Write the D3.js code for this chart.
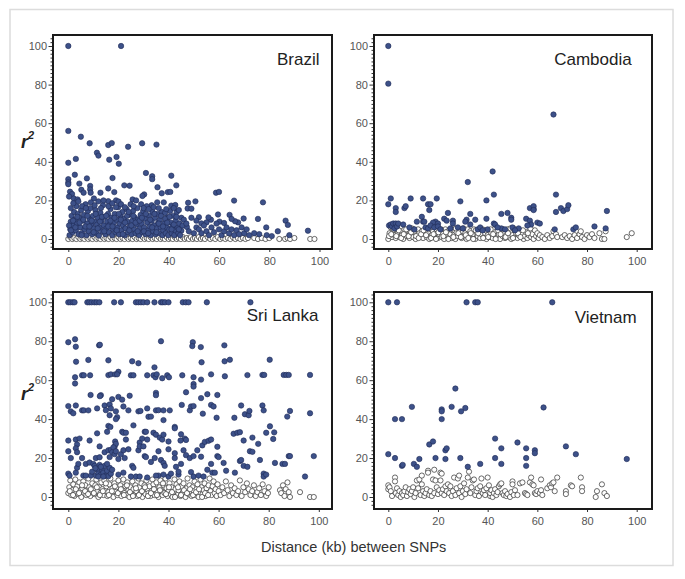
<!DOCTYPE html>
<html><head><meta charset="utf-8">
<script src="https://cdn.jsdelivr.net/npm/d3@7"></script>
<style>body{margin:0;background:#fff}svg{display:block;font-family:"Liberation Sans",Arial,sans-serif}</style>
</head><body><div id="chart"></div>
<script>
const panelNames = ["Brazil","Cambodia","Sri Lanka","Vietnam"];
const xTicks = [0,20,40,60,80,100];
const yTicks = [0,20,40,60,80,100];
const xTitle = "Distance (kb) between SNPs";

const brazilFilled = [
[0,100],[21,100],[0,56],[5,53],[8.5,49.6],[15.9,48.7],[17.3,49.7],[23.8,47.8],[29.4,49.6],[35.1,48.9],[11.4,44.7],[12,43.2],[16.3,41.1],[19.2,42.5],[20.1,39],[0,39.5],[3,41.5],[30.9,34.2],[33.4,32.5],[33.4,31],[41,32.8],[0,31],[0,29.3],[0,28.4],[2.6,33.3],[7.4,31.4],[17.6,31.6],[4.4,28.7],[8.7,27.5],[8.7,25.7],[8.9,24],[12.8,24],[15.9,26.2],[18.3,24.3],[22.3,27.8],[24.4,27.6],[30.2,23.1],[29.5,22.3],[35.5,26.8],[37.2,23.7],[39.6,24.3],[40.6,24.4],[43,27.8],[0.7,24.5],[1.5,23.3],[0.3,22],[2.2,21],[3.7,20.5],[5.2,25.5],[6.1,24],[10.2,21],[25.6,20.5],[15.9,19.6],[19,20],[20,19.4],[35.4,19],[33.2,17.5],[41,17.3],[42.6,17.6],[47.7,18.8],[50.6,19.5],[47.5,15.8],[49,15.7],[58.8,24],[60,24.4],[66,19.9],[77.5,19],[75.5,10.4],[69.8,10.6],[67.6,8.6],[66.4,9.2],[64.2,12.5],[65,10.4],[78.8,6],[83.4,4],[86.5,9.5],[87.4,7.3],[95.4,4.3],[59.6,12.7],[56.8,10],[55,8.6],[55.8,11.2],[60.2,9],[62,8.3],[52,11.3],[53,8.1],[51,6],[47.2,6.2],[45,4.3],
[0.5,2],[0.8,5],[1,9],[1.3,12],[1.7,3.5],[2,7],[2.3,14],[2.6,10],[3,4.5],[3.2,17],[3.5,8],[3.8,13],[4.1,2.5],[4.4,11],[4.8,6],[5.1,15],[5.4,3],[5.8,9.5],[6.2,12.5],[6.5,5],[6.9,18],[7.2,2],[7.5,8],[7.8,14.5],[8.2,4],[8.5,10.5],[8.8,16],[9.2,7],[9.5,2.5],[9.8,12],[10.2,5.5],[10.5,9],[10.8,15],[11.2,3],[11.5,7.5],[11.8,11],[12.2,1.8],[12.5,6],[12.8,13.5],[13.2,9.5],[13.5,4],[13.8,17.5],[14.2,7],[14.5,11.5],[14.8,2.5],[15.2,5.5],[15.5,9],[15.8,13],[16.2,3.5],[16.5,7.5],[16.8,15.5],[17.2,11],[17.5,2],[17.8,5],[18.2,8.5],[18.5,13],[18.8,3.5],[19.2,10],[19.5,6],[19.8,16.5],[20.2,2.5],[20.5,8],[20.8,12],[21.2,4.5],[21.5,14],[21.8,7],[22.2,10.5],[22.5,2],[22.8,5.5],[23.2,15.5],[23.5,9],[23.8,3.5],[24.2,12.5],[24.5,6.5],[24.8,18],[25.2,2.5],[25.5,9.5],[25.8,14.5],[26.2,5],[26.5,11],[26.8,3],[27.2,7.5],[27.5,16],[27.8,10],[28.2,2],[28.5,5.5],[28.8,12.5],[29.2,8],[29.5,3.5],[29.8,14.5],[30.2,6],[30.5,10.5],[30.8,2.5],[31.2,17],[31.5,8.5],[31.8,4.5],[32.2,12],[32.5,6.5],[32.8,2],[33.2,9.5],[33.5,14],[33.8,4],[34.2,7],[34.5,11],[34.8,2.5],[35.2,5.5],[35.5,13],[35.8,8.5],[36.2,3],[36.5,10],[36.8,6],[37.2,14],[37.5,2],[37.8,4.5],[38.2,8],[38.5,13.5],[38.8,3],[39.2,6],[39.5,11],[39.8,2],[40.2,5],[40.5,14.5],[40.8,8.5],[41.2,3],[41.5,6.5],[41.8,12],[42.2,2],[42.5,4.5],[42.8,9.5],[43.2,14],[43.5,6],[43.8,3],[44.2,8],[44.5,2],[45,11],
[0.3,7],[1.1,4.5],[1.9,9.5],[2.8,6],[3.6,11.5],[4.5,8.5],[5.3,2],[6,10],[6.8,6.5],[7.6,12],[8.4,6.5],[9.3,9.5],[10.1,3.5],[10.9,13],[11.7,5.5],[12.6,9],[13.4,11.5],[14.3,4],[15.1,12],[15.9,6.5],[16.8,9.5],[17.6,6.5],[18.4,11],[19.3,4.5],[20.1,13],[20.9,10],[21.7,2.5],[22.6,8.5],[23.4,12],[24.3,4.5],[25.1,7],[25.9,12],[26.8,8.5],[27.6,4],[28.4,9.5],[29.3,11],[30.1,4],[30.9,13],[31.8,3],[32.6,10],[33.4,6],[34.3,13],[35.1,3.5],[36,8],[36.9,12],[37.7,6.5],[38.6,10.5],[39.4,8.5],[40.3,11.5],[41.1,5],[42,7.5],[43,11.5],[44,5],[45.5,7],
[1,16],[2,18.5],[4,19.5],[5.5,17],[7,16],[9,19],[10.5,17.5],[12,19.5],[13,16],[14,20],[16,17],[17.5,18.5],[19,16.5],[21,18],[22.5,16.5],[24,14],[26,17],[27,20],[29,18],[30,16],[32,15.5],[34,16.5],[36,16],[38,19],[39,15.5],[42,16],[44,15],[46,10],[47,8],[48,4],[49,11],[50,3],[51,9.5],[52,5],[53,3],[54,7],[55,4],[56,2],[57,6],[58,3.5],[59,8],[60,5],[61,2],[62,4],[63,6],[64,3],[65,5],[66,2],[67,4.5],[68,2.5],[69,6],[70,3],[71,5],[72,2],[74,3],[76,2.5],[79,2],[81,1.5],[88,2]
];
const brazilOpen = [
[0,0],[0.8,1],[1.6,0],[2.4,0.5],[3.2,0],[4,1],[4.8,0],[5.6,0.5],[6.4,0],[7.2,1],[8,0],[8.8,0.5],[9.6,0],[10.4,1],[11.2,0],[12,0.5],[12.8,0],[13.6,1],[14.4,0],[15.2,0.5],[16,0],[16.8,1],[17.6,0],[18.4,0.5],[19.2,0],[20,1],[20.8,0],[21.6,0.5],[22.4,0],[23.2,1],[24,0],[24.8,0.5],[25.6,0],[26.4,1],[27.2,0],[28,0.5],[28.8,0],[29.6,1],[30.4,0],[31.2,0.5],[32,0],[32.8,1],[33.6,0],[34.4,0.5],[35.2,0],[36,1],[36.8,0],[37.6,0.5],[38.4,0],[39.2,1],[40,0],[40.8,0.5],[41.6,0],[42.4,1],[43.2,0],[44,0.5],[44.8,0],[45.6,1],[46.4,0],[47.2,0.5],[48,0],[48.8,1],[49.6,0],[50.4,0.5],[51.2,0],[52,1],[52.8,0],[53.6,0.5],[54.4,0],[55.5,1],[56.5,0],[57.5,0.5],[58.5,0],[59.5,1],[60.5,0],[61.5,0.5],[62.5,0],[63.5,0.5],[64.5,0],[65.5,1],[66.5,0],[67.5,0.5],[68.5,0],[69.5,0.5],[70.5,0],[71.5,0.5],[74,0.5],[75.5,0],[77,0.5],[78.5,0],[80,0.5],[84,0],[86.3,0],[87.3,0.5],[88.3,0],[90,0.5],[96.3,0],[98,0]
];

const cambodiaFilled = [
[0,100],[0,80.5],[0,18],[1,21],[3,16],[3,14],[6.5,16],[7,17],[9,21],[14,21],[16,18],[17,18],[16.5,15],[19.5,21],[13.5,11.5],[11.5,9],[14,9],[14.5,9],[19,9],[18,8.5],[20,8],[22.5,10.5],[24,13.5],[23.5,9.5],[26,9.5],[26,8],[29,19.5],[32,29.5],[31.5,10],[31,9],[33,13],[33,7.5],[35,10],[39.5,20],[39.5,10.5],[42,35],[42.5,23],[42.5,8],[43,7.5],[40,5],[45.5,13],[45.5,5.5],[48,13.5],[49.5,11],[49.5,10],[52.5,5.5],[55.5,10.5],[57,9.5],[57,16],[58.5,15.5],[58.5,17],[58.5,15],[57.5,7.5],[60,8.5],[61,8],[56,7],[66.5,64.5],[67.5,23],[67.5,14],[67,5],[69.5,16],[70.5,14.5],[72,15.5],[72.5,17.5],[74.5,5],[75.5,6],[83,6.5],[87.5,5.5],[88,14.5],[0.3,7],[1,7.5],[1.5,6.5],[2,8],[2.5,5.5],[3,8],[3.5,6.5],[4,8],[6,7.5],[8.5,6],[10.5,5],[15,6],[16,5.5],[17,7],[18.5,6],[20,6.5],[21,5],[25,5.5],[28,6],[30,5.5],[36,5],[37,6],[38,4.5],[44,6],[47,5],[50,6],[51,4.5]
];
const cambodiaOpen = [
[0,0],[0.5,3],[1,6],[1.5,1],[2,4.5],[2.5,2],[3,0.5],[3.5,5.5],[4,3],[4.5,1],[5,4],[5.5,2],[6,0],[6.5,5],[7,3],[7.5,1.5],[8,4.5],[8.5,0.5],[9,2.5],[9.5,5.5],[10,1],[10.5,3.5],[11,0],[11.5,2],[12,5],[12.5,3],[13,1],[13.5,4],[14,0.5],[14.5,2.5],[15,5],[15.5,1],[16,3.5],[16.5,0],[17,6],[17.5,2],[18,4],[18.5,1],[19,3],[19.5,5],[20,0.5],[20.5,2.5],[21,4.5],[21.5,1],[22,3],[22.5,0],[23,5],[23.5,2],[24,4],[24.5,1],[25,2.5],[25.5,0.5],[26,4.5],[26.5,2],[27,0],[27.5,3.5],[28,1.5],[28.5,5],[29,2.5],[29.5,0.5],[30,4],[30.5,1.5],[31,3],[31.5,0],[32,5],[32.5,2],[33,4],[33.5,1],[34,2.5],[34.5,5],[35,0],[35.5,3.5],[36,1.5],[36.5,4],[37,0.5],[37.5,2.5],[38,5],[38.5,1],[39,3],[39.5,0],[40,2],[40.5,4.5],[41,1],[41.5,3],[42,0.5],[42.5,5],[43,2],[43.5,4],[44,1],[44.5,2.5],[45,0],[45.5,4.5],[46,1.5],[46.5,3],[47,0.5],[47.5,2],[48,5],[48.5,1],[49,3.5],[49.5,0],[50,2],[50.5,5.5],[51,1],[51.5,3],[52,0.5],[52.5,2],[53,4],[53.5,1],[54,2.5],[54.5,0],[55,1.5],[55.5,3.5],[56,0.5],[56.5,2],[57,4],[57.5,1],[58,2.5],[58.5,0],[59,4.5],[59.5,1.5],[60,3],[60.5,0.5],[61,2],[62,1],[63,0],[64,2],[65,0.5],[66,1.5],[66.5,4],[67.5,2.5],[68,1],
[0.3,1.5],[1.2,2.5],[2.2,5],[3.2,1.5],[4.2,4.5],[5.2,0.5],[6.2,2.5],[7.2,5],[8.2,1.5],[9.2,3.5],[10.2,5],[11.2,1.5],[12.2,0.5],[13.2,2.5],[14.2,4.5],[15.2,2],[16.2,5],[17.2,0.5],[18.2,2.5],[19.2,0],[20.2,3.5],[21.2,5],[22.2,1.5],[23.2,3.5],[24.2,0],[25.2,5],[26.2,1],[27.2,5.5],[28.2,3],[29.2,1],[30.2,5.5],[31.2,2],[32.2,0.5],[33.2,3],[34.2,0],[35.2,4.5],[36.2,3],[37.2,5],[38.2,0.5],[39.2,4.5],[40.2,1],[41.2,5],[42.2,2.5],[43.2,0],[44.2,4.5],[45.2,2.5],[46.2,5],[47.2,1],[48.2,3],[49.2,5.5],[50.2,0.5],[51.2,4.5],[52.2,3],[53.2,1],[54.2,4.5],[56.2,3],[57.2,5.5],
[70,1],[71,2],[72,0.5],[73,1.5],[74,0],[75,2],[76,0.5],[77,2.5],[77.5,4],[78,1],[79,0],[80,2],[81,1],[82,2.5],[83,0.5],[85,3],[86,0],[87,0],[87.5,4],[96,1],[98,3]
];

const sriLankaFilled = [
[0,100],[0.8,100],[1.8,100],[2.5,100],[7.6,100],[8.4,100],[9.3,100],[10.4,100],[11.3,100],[12.4,100],[18.3,100],[21,100],[27,100],[28,100],[29,100],[30,100],[31.5,100],[34.4,100],[37,100],[37.7,100],[38.6,100],[40,100],[45.7,100],[46.9,100],[48,100],[55.3,100],[72.7,100],
[0,79.5],[2.7,81],[3,77.2],[12.3,77.9],[12.6,78.2],[37,80],[49.7,79.5],[49.5,77.5],[52.9,77],[62.3,77.9],
[3.1,69.5],[8,70.4],[16,70.2],[25.5,69.7],[28,68.7],[34.4,66.6],[53.2,69.2],[62.4,69.7],[64.5,70.5],[80.4,70.5],
[2.7,61.5],[2.7,58.3],[5.5,62.5],[6.2,62.5],[8.7,62.5],[16,62.6],[17,63],[18.7,63],[20,64.3],[19.5,63],[25,62.5],[26,62.5],[31.5,62.5],[34,62.5],[34.8,61.5],[35.3,63],[37.5,61],[39.5,62.5],[40.2,61.5],[45.5,62.5],[50,61.5],[50,58],[50,56.7],[53,60.3],[57,63],[62.5,62],[71.5,62.6],[77.5,62.7],[78.2,62.7],[86,62.7],[87,62.7],[88,62.7],[96.5,62.7],
[8.9,52.4],[13,52.3],[12.6,51.8],[17.5,50.2],[20,51.4],[21.5,50],[24.5,52],[35,53.5],[35,52.3],[47,53.8],[53,50.8],[55.5,52.8],[59.5,52.4],
[0,46.7],[1,44],[2,43],[3,47],[5.5,44.5],[6.2,44.5],[8,44.5],[11.5,45.5],[14.5,47],[15,44.6],[16.5,47.5],[17,45.5],[19,44],[19.5,41],[16.5,42],[19,40],[22,46.5],[24,44.5],[28,44],[28.8,44.2],[31.5,45.5],[32,41.2],[33,41.3],[35,44.5],[36,44.6],[38,44.5],[40.5,44.5],[38,39.5],[45.3,47.3],[48.5,44.5],[49,46.5],[50,46.7],[53.7,42.8],[57,47.3],[58,46.5],[59.2,40.7],[66.3,40.7],[69,47],[70.5,42.5],[72,42],[72.3,44.2],[77.5,47],[78,44.5],[87.4,41.3],[88.5,44.2],[96.5,43],
[0,29],[3,29.5],[3.5,27],[4.5,30],[8.5,29],[11.5,32.7],[15.5,33.5],[16,36.5],[16.8,36],[18.7,28.5],[18.5,26],[19,27.3],[21.5,33.5],[22,33],[23,33],[23,29.5],[26,36.8],[28.5,28],[29.5,30],[30.5,33.5],[31,33.5],[31.5,29.5],[34,33],[35,32],[36.5,30.5],[37.5,29.5],[38,32],[40,28.5],[42.5,36],[42.5,35.3],[45,32.2],[46.5,30],[47,29.3],[44.8,29],[53.5,26.5],[54.5,28.3],[56,28.9],[57,29.5],[59.5,25.8],[66,32.5],[67.5,33],[68.5,33.3],[70,29],[73.5,30.5],[75.8,27.3],[79,33],[80.5,36.3],[82.2,33.2],[81.8,29.8],
[0,23.5],[3,25],[3.5,23],[1,20],[5.5,20],[7,17],[8.5,17.7],[11,20],[12.5,20.4],[12.5,26],[14.5,23],[16,24],[17,24.2],[16.5,20.5],[17.5,23],[18,25.5],[18.5,22],[19,23.5],[20,19.5],[21,22],[22,24],[22.5,20],[24,24.5],[25.5,16],[26,15],[28,24],[28.5,26],[30,26],[30.5,21],[31,20.5],[34.5,20],[33,18],[36,23.5],[37,19],[38,17.5],[38.5,16],[40,24.5],[42.5,22.5],[42.5,20],[43,15.5],[46,24],[47,21.5],[48.5,20],[50,21],[51.5,24],[53,20.7],[55.5,14],[57,17],[57.5,12.5],[58.5,12.5],[59.5,21],[60,20.5],[62,17.5],[63,13.5],[66.5,12.5],[68.5,18.5],[69,19],[70,16],[71.5,15.5],[72.5,23.5],[73.5,23.2],[76.5,19],[78,12],[78,10.5],[79,11.5],[82.5,17.5],[85.5,17],[86.5,17],[88,21],[88.5,21],[94.5,10.5],[98,21],
[9,11],[9.5,13],[10,17],[10.5,16],[11,11],[11.5,14],[12,12],[12.5,16.5],[13,11.5],[13.5,14],[14,12.5],[14.5,16],[15,11],[15.5,13.5],[16,10.7],[16.5,15],[17,12],[17.5,14],[0,12],[0.5,11],[3,12.5],[3.5,15],[4,17],[6,11],[7,11],[27,10.5],[28.5,10.5],[31.5,10],[36,11],[40,10.5],[41,12],[44,11.5],[49,12.8],[50,10.5],[52,11],[54,10.5],[44,13],[45,17],[35,11],[38,11.5],[25,10.5],[20,11.5],[22,12.5],[10.8,14.8],[13,15.5],[15.5,17],[12,10.5],[14,10.5]
];
const sriLankaOpen = [
[0,2],[0.4,5],[0.8,8.5],[1.2,1],[1.6,3.5],[2,6.5],[2.4,0.5],[2.8,9],[3.2,2.5],[3.6,5.5],[4,1.5],[4.4,7.5],[4.8,3],[5.2,0],[5.6,4.5],[6,8],[6.4,2],[6.8,6],[7.2,1],[7.6,3.5],[8,9.5],[8.4,5],[8.8,0.5],[9.2,2.5],[9.6,7],[10,4],[10.4,1.5],[10.8,6],[11.2,9],[11.6,3],[12,0],[12.4,5],[12.8,2],[13.2,7.5],[13.6,4],[14,1],[14.4,8.5],[14.8,3],[15.2,5.5],[15.6,0.5],[16,2.5],[16.4,6.5],[16.8,9.5],[17.2,1.5],[17.6,4.5],[18,0],[18.4,7],[18.8,3],[19.2,5],[19.6,1],[20,8.5],[20.4,2.5],[20.8,6],[21.2,0.5],[21.6,4],[22,9],[22.4,2],[22.8,5.5],[23.2,1],[23.6,7.5],[24,3.5],[24.4,0],[24.8,5],[25.2,2],[25.6,8],[26,4],[26.4,1],[26.8,6],[27.2,3],[27.6,0.5],[28,9.5],[28.4,5],[28.8,2],[29.2,7],[29.6,0],[30,3.5],[30.4,6],[30.8,1.5],[31.2,8.5],[31.6,4],[32,2],[32.4,5.5],[32.8,0.5],[33.2,3],[33.6,9],[34,6.5],[34.4,1],[34.8,4],[35.2,7.5],[35.6,2.5],[36,0],[36.4,5],[36.8,8.5],[37.2,3],[37.6,1],[38,6],[38.4,2],[38.8,9.5],[39.2,4.5],[39.6,0.5],[40,3],[40.4,7],[40.8,1.5],[41.2,5],[41.6,0],[42,2.5],[42.4,9],[42.8,4],[43.2,6.5],[43.6,1],[44,3.5],[44.4,8],[44.8,0.5],[45.2,5.5],[45.6,2],[46,7],[46.4,3.5],[46.8,0],[47.2,4.5],[47.6,9.5],[48,1.5],[48.4,6],[48.8,2.5],[49.2,0.5],[49.6,5],[50,3],[50.4,8],[50.8,1],[51.2,4],[51.6,6.5],[52,0],[52.4,2.5],[52.8,9],[53.2,5],[53.6,1.5],[54,3.5],[54.4,7],[54.8,0.5],[55.2,4.5],[55.6,2],[56,6],[56.4,9.5],[56.8,3],[57.2,1],[57.6,5.5],[58,8],[58.4,2],[58.8,4],[59.2,0.5],[59.6,6.5],[60,3],
[0.6,3],[1.9,1],[3,4],[4.3,2],[5.5,6],[6.7,3],[7.9,1.5],[9,4],[10.2,2],[11.4,5],[12.6,1],[13.8,3],[15,7],[16.2,1],[17.4,3],[18.6,5.5],[19.8,2],[21,4],[22.2,1],[23.4,6],[24.6,2.5],[25.8,0.5],[27,4.5],[28.2,1],[29.4,3],[30.6,5],[31.8,0.5],[33,2],[34.2,4],[35.4,1],[36.6,3.5],[37.8,7],[39,1.5],[40.2,5],[41.4,2.5],[42.6,0],[43.8,5],[45,1],[46.2,3.5],[47.4,2],[48.6,4],[49.8,1],[51,2.5],[52.2,4],[53.4,0],[54.6,2],[55.8,1],
[60.8,1],[61.5,5],[62.2,2],[62.9,8],[63.6,3.5],[64.3,0.5],[65,6],[65.7,2],[66.4,4.5],[67.1,1],[67.8,3],[68.5,8.5],[69.2,0.5],[69.9,5],[70.6,2.5],[71.3,7],[72,4],[72.7,1],[73.4,3],[74.1,6],[74.8,0.5],[75.5,2.5],[76.2,4.5],[76.9,1],[77.6,6.5],[78.3,3],[79,0.5],[79.7,2],[80,5],[84.5,3.5],[85,2],[85.7,6],[86.3,0.5],[86.8,4],[87.5,7.5],[88,2.5],[88.5,0],[92.5,2.5],[96.5,0],[98,0]
];

const vietnamFilled = [
[0,100],[3.5,100],[31.5,100],[35,100],[36,100],[66,100],
[9.5,46.3],[2.7,40],[5.5,40],[21.5,45],[21.5,44],[21.5,40],[25.5,46.3],[27,55.7],[29.3,44],[31,45.7],[62.5,46],
[0,22],[2.7,20],[5.5,16],[5.8,16.5],[10.3,17],[11.5,15.5],[12.5,19.5],[16.5,27],[18,28.5],[19,20],[23,24],[23.5,25],[23,19.5],[29,20],[32,15.5],[37,17],[43,30],[43,20],[45.5,25],[45.5,17],[52,28],[55.5,25],[55.5,20],[55.5,16],[59,24],[59,22.5],[71.5,26],[75.5,22],[96,19.5]
];
const vietnamOpen = [
[0,6],[0,4],[0.5,5],[1,3],[1.5,0.5],[2.7,10],[2.7,8],[3,2],[3.5,4.5],[4,1],[4.5,3],[5,0],[5.5,2],[6,1],[6.5,3],[7,5],[7.5,0.5],[8,2.5],[8.5,4],[9,1.5],[9.5,3],[10,5],[10.5,0],[11,2],[11.5,8.5],[12,4.5],[12.5,9],[13,1],[13.5,6.5],[13.5,11],[14,3],[14.5,0.5],[15,2],[15.5,4],[16,13.5],[16,12.5],[16.5,1],[17,3],[17.5,0.5],[18,9],[18.5,2],[18.5,14],[19,8.5],[19.5,5],[20,1.5],[20.5,3.5],[21,12.5],[21.5,12],[21,8.5],[21.5,2],[22,4],[22.5,1],[23,5.5],[23.5,3],[24,6.5],[24.5,2],[25,5.5],[25.5,0.5],[26,3],[26.5,10],[27,1],[27.5,4.5],[28,9.5],[28.5,11],[28.5,2],[29,5.5],[29.5,0],[30,3],[30.5,7],[31,1.5],[31.5,4],[32,10],[32.5,13],[33,2],[33.5,5],[34,8.5],[34.5,9],[35,1],[35.5,3],[36,4.5],[36.5,0.5],[37,5.5],[37.5,9.5],[38,2],[38.5,3.5],[39,1],[39.5,4.5],[40,10],[40.5,6],[41,0.5],[41,2],[41.5,3.5],[42,0],[42.5,2],[43,4],[43.5,1],[44,2.5],[44.5,5.5],[45,6.5],[45.5,7],[46,2],[46.5,1],[47,3],[47.5,0.5],[48,1.5],[49,0],[49.5,2.5],[50,8],[50,6.5],[50.5,1],[51,3.5],[52,1],[53,7],[54,7.5],[55,2],[55.5,1.5],[56,1],[57,7.5],[57.5,10],[58,6.5],[58.5,6],[59,2],[59.5,1.5],[60,3],[61,2],[61.5,3.5],[61.5,9],[62,1],[64,4.5],[65,6],[65.5,5],[66,7],[66.5,7.5],[67,3],[68,10],[71.5,3],[71.5,1.5],[73.5,6],[74,5.5],[77.5,10],[78,5],[78,3],[83.5,0],[84,3],[86,6.5],[87,2],[88,0.5]
];

// ---- layout ----
const W = 685, H = 579;
const svg = d3.select("#chart").append("svg").attr("width", W).attr("height", H);
svg.append("rect").attr("x",10).attr("y",9.5).attr("width",663).attr("height",556)
  .attr("fill","none").attr("stroke","#dcdcdc").attr("stroke-width",1.5);

const panels = [
  {name:panelNames[0], filled:brazilFilled, open:brazilOpen, fx:[53,332], fy:[35,249], xr:[68.3,319.5], yr:[239,46], lx:319.5, ly:65, r2y:148},
  {name:panelNames[1], filled:cambodiaFilled, open:cambodiaOpen, fx:[374,652], fy:[35,249], xr:[388.3,636.7], yr:[239,46], lx:631.7, ly:65},
  {name:panelNames[2], filled:sriLankaFilled, open:sriLankaOpen, fx:[53,332], fy:[292,509], xr:[68.3,318.8], yr:[497,302.3], lx:318.5, ly:321, r2y:400},
  {name:panelNames[3], filled:vietnamFilled, open:vietnamOpen, fx:[374,652], fy:[292,509], xr:[388.3,636.7], yr:[497,302.3], lx:636.7, ly:322.5}
];

const fillBlue = "#3d5189", strokeBlue = "#1e2a55";
const styleAxis = a => {
  a.attr("color","#444");
  a.select(".domain").remove();
  a.selectAll("line").attr("stroke","#333");
  a.selectAll("text").attr("font-size",11).attr("fill","#555")
    .attr("font-family","'Liberation Sans',Arial,sans-serif");
};
panels.forEach(p => {
  const x = d3.scaleLinear().domain([0,100]).range(p.xr);
  const y = d3.scaleLinear().domain([0,100]).range(p.yr);
  const g = svg.append("g");
  const lo = y.invert(p.fy[1]), hi = y.invert(p.fy[0]);
  const minor = d3.range(-4, 105, 2).filter(v => v >= lo && v <= hi && v % 20 !== 0);
  g.append("g").attr("transform",`translate(${p.fx[0]},0)`)
    .call(d3.axisLeft(y).tickValues(minor).tickSize(2.5).tickFormat("").tickSizeOuter(0))
    .call(styleAxis);
  g.append("g").attr("transform",`translate(${p.fx[0]},0)`)
    .call(d3.axisLeft(y).tickValues(yTicks).tickSize(4.5).tickPadding(1.5).tickSizeOuter(0))
    .call(styleAxis);
  g.append("g").attr("transform",`translate(0,${p.fy[1]})`)
    .call(d3.axisBottom(x).tickValues(xTicks).tickSize(3).tickPadding(5).tickSizeOuter(0))
    .call(styleAxis);
  const clipId = "clip" + p.name.replace(/\s/g,"");
  svg.append("clipPath").attr("id",clipId).append("rect")
    .attr("x",p.fx[0]).attr("y",p.fy[0]).attr("width",p.fx[1]-p.fx[0]).attr("height",p.fy[1]-p.fy[0]);
  const pts = g.append("g").attr("clip-path",`url(#${clipId})`);
  pts.selectAll("circle.o").data(p.open).join("circle").attr("class","o")
    .attr("cx",d=>x(d[0])).attr("cy",d=>y(d[1])).attr("r",2.6)
    .attr("fill","#fff").attr("stroke","#3a3a3a").attr("stroke-width",0.75);
  pts.selectAll("circle.f").data(p.filled).join("circle").attr("class","f")
    .attr("cx",d=>x(d[0])).attr("cy",d=>y(d[1])).attr("r",2.7)
    .attr("fill",fillBlue).attr("stroke",strokeBlue).attr("stroke-width",0.6);
  g.append("rect").attr("x",p.fx[0]).attr("y",p.fy[0])
    .attr("width",p.fx[1]-p.fx[0]).attr("height",p.fy[1]-p.fy[0])
    .attr("fill","none").attr("stroke","#1a1a1a").attr("stroke-width",2);
  g.append("text").attr("x",p.lx).attr("y",p.ly).attr("text-anchor","end")
    .attr("font-size",17).attr("fill","#222").text(p.name);
  if (p.r2y) {
    const t = g.append("text").attr("x",21).attr("y",p.r2y)
      .attr("font-size",18).attr("font-weight","bold").attr("font-style","italic").attr("fill","#222");
    t.append("tspan").text("r");
    t.append("tspan").attr("dy",-9).attr("font-size",11).text("2");
  }
});

svg.append("text").attr("x",261).attr("y",552).attr("font-size",14.5).attr("fill","#333").text(xTitle);
</script>
</body></html>
